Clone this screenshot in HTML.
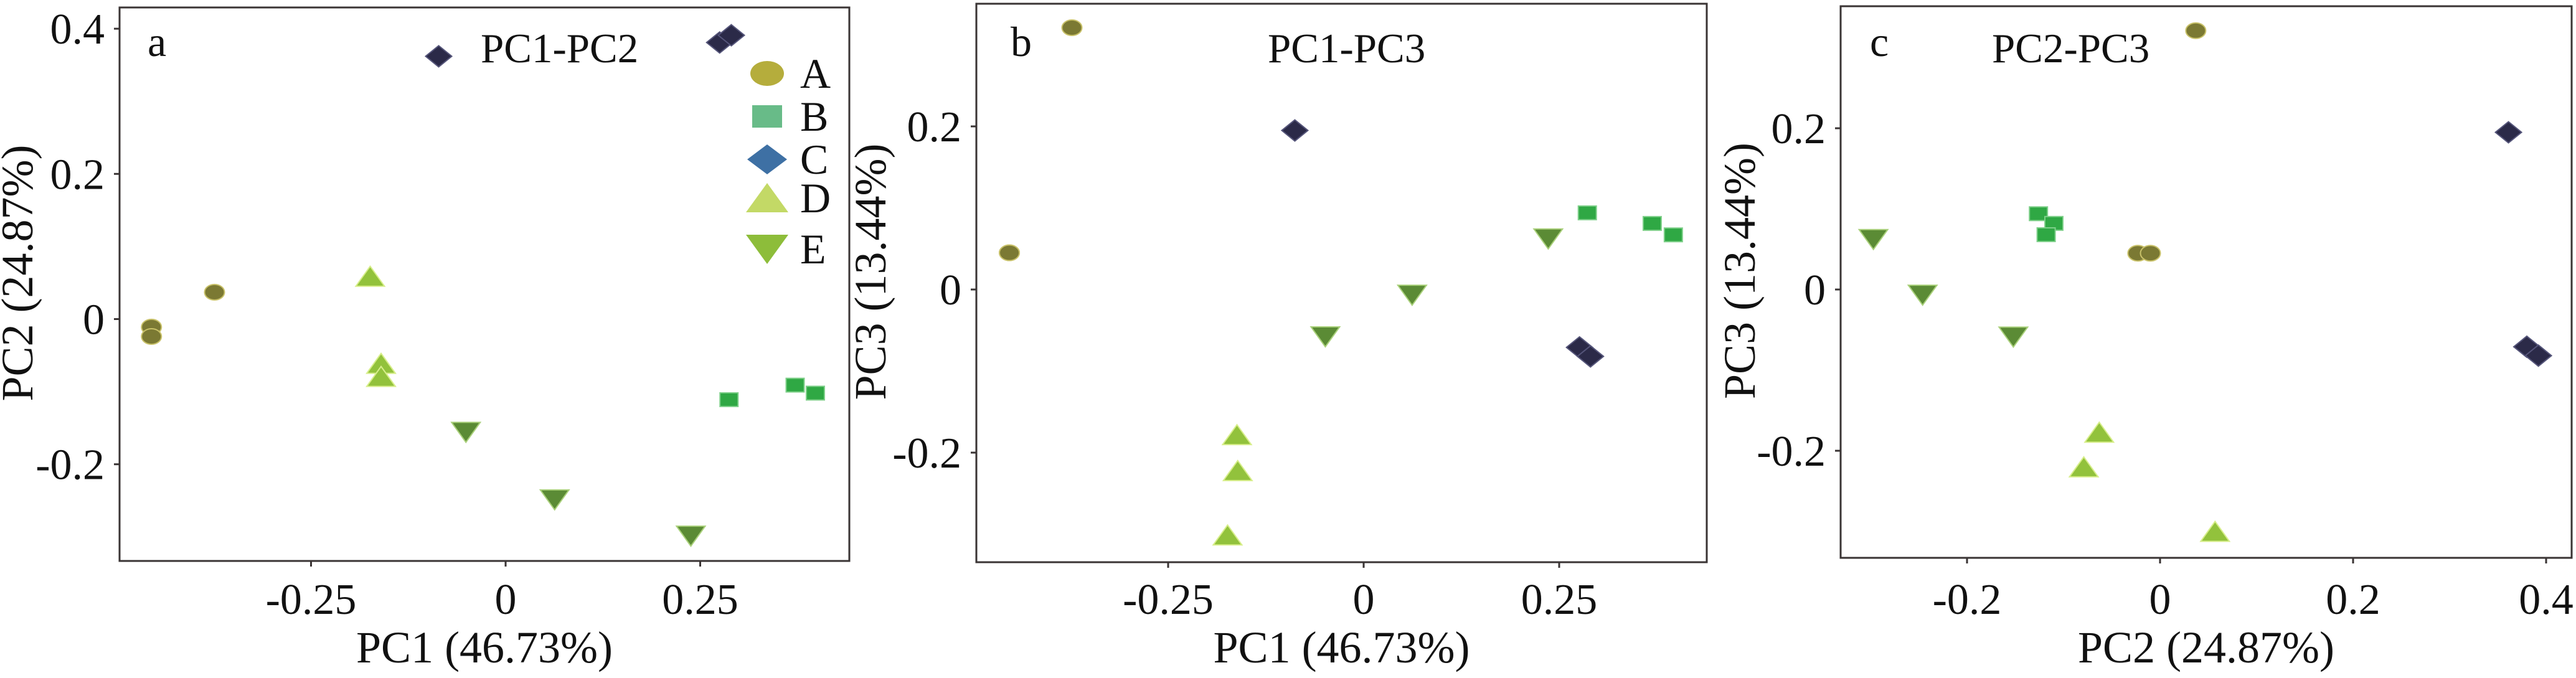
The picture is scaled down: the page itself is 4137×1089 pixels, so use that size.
<!DOCTYPE html>
<html><head><meta charset="utf-8">
<style>
html,body{margin:0;padding:0;background:#fff;}
svg{display:block;}
svg text{font-family:"Liberation Serif","Times New Roman",serif !important;fill:#111;}
</style></head>
<body>
<svg id="chart" width="4137" height="1089" viewBox="0 0 4137 1089" xmlns="http://www.w3.org/2000/svg" font-family="Liberation Serif, serif">
</svg>
<script>
// ---------- data ----------
const groups = ['A','B','C','D','E'];
// panel a: PC1 vs PC2
const aX_A=[-0.455,-0.455,-0.374], aY_A=[-0.011,-0.024,0.037];
const aX_B=[0.287,0.372,0.398],    aY_B=[-0.111,-0.091,-0.102];
const aX_C=[-0.086,0.275,0.29],    aY_C=[0.362,0.381,0.391];
const aX_D=[-0.174,-0.16,-0.16],   aY_D=[0.059,-0.061,-0.079];
const aX_E=[-0.051,0.063,0.238],   aY_E=[-0.156,-0.249,-0.299];
// panel b: PC1 vs PC3
const bX_A=[-0.373,-0.453,-0.453], bY_A=[0.321,0.045,0.045];
const bX_B=[0.286,0.369,0.396],    bY_B=[0.094,0.081,0.067];
const bX_C=[-0.088,0.276,0.29],    bY_C=[0.195,-0.071,-0.082];
const bX_D=[-0.162,-0.161,-0.174], bY_D=[-0.178,-0.222,-0.301];
const bX_E=[0.236,0.062,-0.049],   bY_E=[0.062,-0.007,-0.058];
// panel c: PC2 vs PC3
const cX_A=[0.037,-0.023,-0.010],  cY_A=[0.321,0.045,0.045];
const cX_B=[-0.126,-0.110,-0.118], cY_B=[0.094,0.082,0.068];
const cX_C=[0.361,0.38,0.392],     cY_C=[0.195,-0.071,-0.082];
const cX_D=[-0.063,-0.079,0.057],  cY_D=[-0.177,-0.220,-0.300];
const cX_E=[-0.297,-0.246,-0.152], cY_E=[0.062,-0.007,-0.059];
// ticks
const xTicksPC1=[-0.25,0,0.25], xTickLabelsPC1=['-0.25','0','0.25'];
const yTicksPC2=[0.4,0.2,0,-0.2], yTickLabelsPC2=['0.4','0.2','0','-0.2'];
const yTicksPC3=[0.2,0,-0.2], yTickLabelsPC3=['0.2','0','-0.2'];
const xTicksPC2=[-0.2,0,0.2,0.4], xTickLabelsPC2=['-0.2','0','0.2','0.4'];

// ---------- styling / layout ----------
const colors={A:'#7b7933',B:'#2fa844',C:'#2b2a48',D:'#92c23c',E:'#5b8b35'};
const strokes={A:'#c9c26a',B:'#7fd08a',C:'#55557a',D:'#d7ee8a',E:'#a9d07a'};
const legColors={A:'#b5ad3c',B:'#68bb88',C:'#3e70a4',D:'#c3d966',E:'#8dbd3a'};
const NS='http://www.w3.org/2000/svg';
const FONT='Liberation Serif, serif';
const svg=document.getElementById('chart');
function mk(tag,attrs,parent){const e=document.createElementNS(NS,tag);for(const k in attrs)e.setAttribute(k,attrs[k]);if(tag==='text')e.setAttribute('font-family',FONT);(parent||svg).appendChild(e);return e;}

const panels=[
 {id:'a',letter:'a',title:'PC1-PC2',L:192,R:1364,T:12,B:901,x0:812,xs:1250,y0:512.5,ys:1166,
  xt:xTicksPC1,xl:xTickLabelsPC1,yt:yTicksPC2,yl:yTickLabelsPC2,xTitle:'PC1 (46.73%)',yTitle:'PC2 (24.87%)',yTitleX:52,
  letterX:237,titleX:772,
  X:{A:aX_A,B:aX_B,C:aX_C,D:aX_D,E:aX_E},Y:{A:aY_A,B:aY_B,C:aY_C,D:aY_D,E:aY_E}},
 {id:'b',letter:'b',title:'PC1-PC3',L:1568,R:2741,T:6,B:903,x0:2190,xs:1256,y0:465,ys:1310,
  xt:xTicksPC1,xl:xTickLabelsPC1,yt:yTicksPC3,yl:yTickLabelsPC3,xTitle:'PC1 (46.73%)',yTitle:'PC3 (13.44%)',yTitleX:1422,
  letterX:1623,titleX:2036,
  X:{A:bX_A,B:bX_B,C:bX_C,D:bX_D,E:bX_E},Y:{A:bY_A,B:bY_B,C:bY_C,D:bY_D,E:bY_E}},
 {id:'c',letter:'c',title:'PC2-PC3',L:2956,R:4130,T:10,B:896,x0:3469,xs:1550,y0:465,ys:1295,
  xt:xTicksPC2,xl:xTickLabelsPC2,yt:yTicksPC3,yl:yTickLabelsPC3,xTitle:'PC2 (24.87%)',yTitle:'PC3 (13.44%)',yTitleX:2818,
  letterX:3003,titleX:3199,
  X:{A:cX_A,B:cX_B,C:cX_C,D:cX_D,E:cX_E},Y:{A:cY_A,B:cY_B,C:cY_C,D:cY_D,E:cY_E}}
];

function marker(grp,cx,cy,fill,stroke,parent){
  let e;
  if(grp==='A'){e=mk('ellipse',{cx:cx,cy:cy,rx:16,ry:12.5},parent);}
  else if(grp==='B'){e=mk('rect',{x:cx-14.5,y:cy-11,width:29,height:22},parent);}
  else if(grp==='C'){const w=21,h=17;e=mk('polygon',{points:`${cx},${cy-h} ${cx+w},${cy} ${cx},${cy+h} ${cx-w},${cy}`},parent);}
  else if(grp==='D'){const w=23,h=16;e=mk('polygon',{points:`${cx},${cy-h} ${cx+w},${cy+h} ${cx-w},${cy+h}`},parent);}
  else {const w=23,h=16;e=mk('polygon',{points:`${cx-w},${cy-h} ${cx+w},${cy-h} ${cx},${cy+h}`},parent);}
  e.setAttribute('fill',fill);
  if(stroke){e.setAttribute('stroke',stroke);e.setAttribute('stroke-width','2');}
  return e;
}

panels.forEach(p=>{
  const g=mk('g',{});
  
  
  const sx=v=>p.x0+v*p.xs, sy=v=>p.y0-v*p.ys;
  const fr=mk('rect',{x:p.L,y:p.T,width:p.R-p.L,height:p.B-p.T,fill:'none',stroke:'#3a3434','stroke-width':3},g);
  
  
  p.xt.forEach((v,i)=>{
    const x=sx(v);
    const t=mk('line',{x1:x,y1:p.B,x2:x,y2:p.B+9,stroke:'#3a3434','stroke-width':3},g);
    
    
    const tx=mk('text',{x:x,y:986,'font-size':70,'text-anchor':'middle'},g);
    tx.textContent=p.xl[i];
    
    
  });
  p.yt.forEach((v,i)=>{
    const y=sy(v);
    const t=mk('line',{x1:p.L-9,y1:y,x2:p.L,y2:y,stroke:'#3a3434','stroke-width':3},g);
    
    
    const tx=mk('text',{x:p.L-24,y:y+24,'font-size':70,'text-anchor':'end'},g);
    tx.textContent=p.yl[i];
    
    
  });
  const xt=mk('text',{x:(p.L+p.R)/2,y:1064,'font-size':72,'text-anchor':'middle'},g);
  xt.textContent=p.xTitle;
  
  
  const yc=(p.T+p.B)/2-18;
  const yt=mk('text',{x:p.yTitleX,y:yc,'font-size':72,'text-anchor':'middle',transform:`rotate(-90 ${p.yTitleX} ${yc})`},g);
  yt.textContent=p.yTitle;
  
  
  const lt=mk('text',{x:p.letterX,y:90,'font-size':68},g);
  lt.textContent=p.letter;
  
  
  const tt=mk('text',{x:p.titleX,y:100,'font-size':67},g);
  tt.textContent=p.title;
  
  
  groups.forEach(grp=>{
    const xs=p.X[grp], ys=p.Y[grp];
    xs.forEach((v,i)=>{
      const m=marker(grp,sx(v),sy(ys[i]),colors[grp],strokes[grp],g);
      
      
    });
  });
});

const lg=mk('g',{});


const legY=[118,187,256,318,400];
groups.forEach((grp,i)=>{
  const cy=legY[i];
  let e;
  if(grp==='A') e=mk('ellipse',{cx:1232,cy:cy,rx:27,ry:20},lg);
  else if(grp==='B') e=mk('rect',{x:1208,y:cy-18,width:48,height:36},lg);
  else if(grp==='C') e=mk('polygon',{points:`1232,${cy-24} 1264,${cy} 1232,${cy+24} 1200,${cy}`},lg);
  else if(grp==='D') e=mk('polygon',{points:`1232,${cy-24} 1266,${cy+23} 1198,${cy+23}`},lg);
  else e=mk('polygon',{points:`1198,${cy-23} 1266,${cy-23} 1232,${cy+24}`},lg);
  e.setAttribute('fill',legColors[grp]);
  
  
  const t=mk('text',{x:1285,y:cy+23,'font-size':68},lg);
  t.textContent=grp;
  
  
});
</script>
</body></html>
